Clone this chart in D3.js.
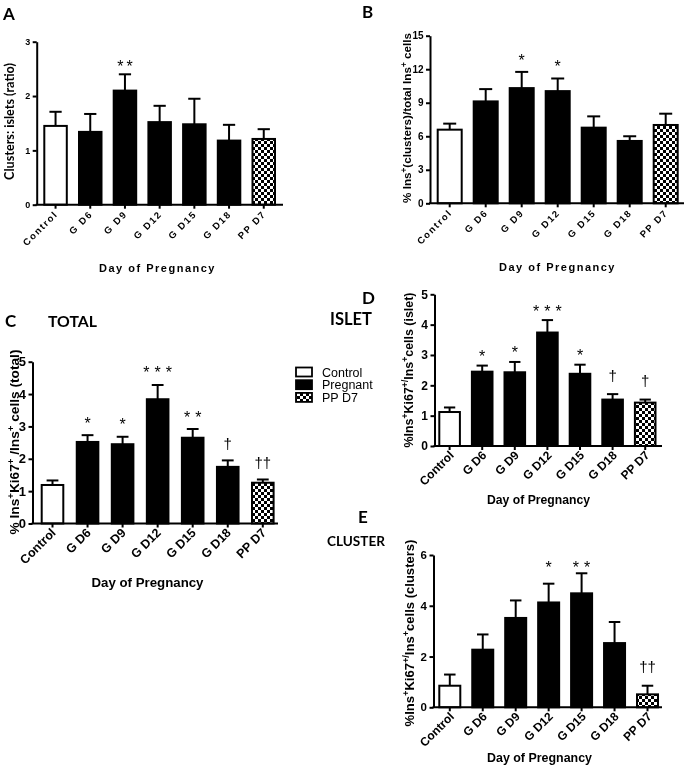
<!DOCTYPE html>
<html><head><meta charset="utf-8">
<script src="https://cdn.jsdelivr.net/npm/d3@7"></script>
<style>body{margin:0;background:#fff} svg{display:block;filter:grayscale(1)}</style>
</head><body>
<svg id="chart" width="686" height="772"></svg>
<script>
// ---------- DATA ----------
const categories = ["Control", "G D6", "G D9", "G D12", "G D15", "G D18", "PP D7"];
const groups = ["Control", "Pregnant", "Pregnant", "Pregnant", "Pregnant", "Pregnant", "PP D7"];
const legendLabels = ["Control", "Pregnant", "PP D7"];

// A: Clusters : islets ratio
const ratioMean = [1.45, 1.34, 2.10, 1.52, 1.48, 1.18, 1.21];
const ratioSem  = [0.26, 0.33, 0.30, 0.30, 0.47, 0.29, 0.18];
const ratioSig  = ["", "", "**", "", "", "", ""];
const ratioTicks = [0, 1, 2, 3];

// B: % Ins+ (clusters) / total Ins+
const clusterPctMean = [6.59, 9.12, 10.31, 10.04, 6.77, 5.58, 7.01];
const clusterPctSem  = [0.54, 1.10, 1.45, 1.13, 1.01, 0.42, 1.01];
const clusterPctSig  = ["", "", "*", "*", "", "", ""];
const clusterPctTicks = [0, 3, 6, 9, 12, 15];

// C: Ki67 total
const totalMean = [1.19, 2.52, 2.45, 3.84, 2.65, 1.75, 1.26];
const totalSem  = [0.14, 0.21, 0.23, 0.44, 0.27, 0.20, 0.10];
const totalSig  = ["", "*", "*", "***", "**", "†", "††"];
const totalTicks = [0, 1, 2, 3, 4, 5];

// D: Ki67 islet
const isletMean = [1.12, 2.45, 2.43, 3.74, 2.38, 1.53, 1.43];
const isletSem  = [0.15, 0.20, 0.34, 0.41, 0.30, 0.18, 0.10];
const isletSig  = ["", "*", "*", "***", "*", "†", "†"];
const isletTicks = [0, 1, 2, 3, 4, 5];

// E: Ki67 clusters
const clusterMean = [0.85, 2.27, 3.52, 4.13, 4.49, 2.53, 0.51];
const clusterSem  = [0.44, 0.60, 0.69, 0.74, 0.79, 0.83, 0.34];
const clusterSig  = ["", "", "", "*", "**", "", "††"];
const clusterTicks = [0, 2, 4, 6];

// ---------- DRAWING ----------
const svg = d3.select("#chart");
const ARIAL = "'Liberation Sans', Arial, sans-serif";
const CAL = "Lato, 'Open Sans', sans-serif";

const defs = svg.append("defs");
const pat = defs.append("pattern").attr("id", "checker")
  .attr("width", 6).attr("height", 6).attr("patternUnits", "userSpaceOnUse");
pat.append("rect").attr("width", 6).attr("height", 6).attr("fill", "#000");
pat.append("rect").attr("width", 3).attr("height", 3).attr("fill", "#fff");
pat.append("rect").attr("x", 3).attr("y", 3).attr("width", 3).attr("height", 3).attr("fill", "#fff");

const fillFor = g => g === "Control" ? "#fff" : (g === "Pregnant" ? "#000" : "url(#checker)");

function fit(sel, target) {
  const w = sel.node().getComputedTextLength();
  const fs = parseFloat(sel.attr("font-size"));
  sel.attr("font-size", (fs * target / w).toFixed(2));
}

function drawPanel(p) {
  const n = categories.length;
  const pi = 1 - p.barW / p.step, po = (p.first - p.x0) / p.step;
  const x = d3.scaleBand().domain(categories)
    .range([p.x0, p.x0 + p.step * (n - pi + 2 * po)])
    .paddingInner(pi).paddingOuter(po);
  const y = d3.scaleLinear().domain([0, p.max]).range([p.y0, p.yTop]);
  const g = svg.append("g");
  const rows = categories.map((c, i) => ({c, grp: groups[i], m: p.mean[i], s: p.sem[i], sig: p.sig[i]}));

  // error bars (upper only)
  const eb = g.append("g").attr("stroke", "#000").attr("stroke-width", 2);
  rows.forEach(r => {
    const cx = x(r.c) + x.bandwidth() / 2;
    eb.append("line").attr("x1", cx).attr("x2", cx).attr("y1", y(r.m)).attr("y2", y(r.m + r.s));
    eb.append("line").attr("x1", cx - x.bandwidth() / 4).attr("x2", cx + x.bandwidth() / 4)
      .attr("y1", y(r.m + r.s)).attr("y2", y(r.m + r.s));
  });
  // bars
  g.append("g").selectAll("rect").data(rows).join("rect")
    .attr("x", d => x(d.c) + 1).attr("width", x.bandwidth() - 2)
    .attr("y", d => y(d.m)).attr("height", d => p.y0 - y(d.m))
    .attr("fill", d => fillFor(d.grp)).attr("stroke", "#000").attr("stroke-width", 2);

  // significance marks
  const capMin = d3.min(rows.filter(r => r.sig && r.sig[0] === "*"), r => y(r.m + r.s));
  g.append("g").selectAll("text").data(rows.filter(r => r.sig)).join("text")
    .attr("x", d => x(d.c) + x.bandwidth() / 2 + (d.sig[0] === "*" ? p.starSp / 2 : 0))
    .attr("y", d => {
      const cap = y(d.m + d.s);
      if (d.sig[0] === "*") return (p.alignStars ? capMin : cap) - p.starOff;
      return cap - p.dagOff;
    })
    .attr("text-anchor", "middle").attr("fill", "#000")
    .attr("font-family", ARIAL).attr("font-size", d => d.sig[0] === "*" ? 16 : 15)
    .attr("letter-spacing", d => d.sig[0] === "*" ? p.starSp : 0)
    .text(d => d.sig);

  // y axis
  const ya = g.append("g").attr("transform", `translate(${p.x0},0)`)
    .call(d3.axisLeft(y).tickValues(p.ticks).tickFormat(d3.format("d"))
      .tickSize(4).tickSizeOuter(0).tickPadding(2.5));
  ya.select(".domain").attr("stroke-width", 2);
  ya.selectAll(".tick line").attr("stroke-width", 2);
  ya.selectAll(".tick text").attr("font-family", ARIAL).attr("font-weight", "bold")
    .attr("font-size", p.yFs).attr("fill", "#000");

  // x axis
  const xa = g.append("g").attr("transform", `translate(0,${p.y0})`)
    .call(d3.axisBottom(x).tickSize(4).tickSizeOuter(0));
  xa.select(".domain").remove();
  xa.selectAll(".tick line").attr("stroke-width", 2);
  xa.append("line").attr("x1", p.x0 - 1).attr("x2", p.axisEnd).attr("stroke", "#000").attr("stroke-width", 2);
  xa.selectAll(".tick text")
    .attr("x", 0).attr("y", 0).attr("dy", 0)
    .attr("transform", `translate(${p.lblDx},${p.lblDy}) rotate(-45)`)
    .attr("text-anchor", "end")
    .attr("font-family", ARIAL).attr("font-weight", "bold")
    .attr("font-size", p.xFs).attr("letter-spacing", p.xLs).attr("fill", "#000");

  // y title
  const yt = svg.append("text")
    .attr("transform", `translate(${p.ytx},${p.yty}) rotate(-90)`)
    .attr("text-anchor", "middle").attr("dy", "0.35em")
    .attr("font-family", p.ytFont).attr("font-weight", "bold").attr("font-size", 12);
  p.ytParts.forEach(part => {
    const t = yt.append("tspan").text(part[0]);
    if (part[1]) t.attr("baseline-shift", "super").attr("font-size", "70%");
  });
  fit(yt, p.ytLen);

  // x title
  const xt = svg.append("text").attr("x", p.xtx).attr("y", p.xty)
    .attr("text-anchor", "middle").attr("font-family", ARIAL).attr("font-weight", "bold")
    .attr("font-size", 12).attr("letter-spacing", p.xtLs).text("Day of Pregnancy");
  fit(xt, p.xtLen);
}

// A
drawPanel({mean: ratioMean, sem: ratioSem, sig: ratioSig, ticks: ratioTicks, max: 3,
  x0: 36.7, first: 43.3, step: 34.7, barW: 24.5, axisEnd: 283, y0: 204.7, yTop: 41.7,
  starOff: 2, dagOff: 11, starSp: 3, yFs: 9, xFs: 9.5, xLs: 1.6, lblDx: 3, lblDy: 10,
  ytx: 10, yty: 121.5, ytLen: 117, ytFont: CAL, ytParts: [["Clusters: islets (ratio)"]],
  xtx: 157.5, xty: 271.5, xtLen: 115, xtLs: 1.5});
// B
drawPanel({mean: clusterPctMean, sem: clusterPctSem, sig: clusterPctSig, ticks: clusterPctTicks, max: 15,
  x0: 430, first: 436.7, step: 36, barW: 26, axisEnd: 684, y0: 203.3, yTop: 35.7,
  starOff: 6, dagOff: 11, starSp: 3, yFs: 10, xFs: 9.5, xLs: 1.6, lblDx: 3, lblDy: 10,
  ytx: 407, yty: 118, ytLen: 170, ytFont: ARIAL,
  ytParts: [["% Ins"], ["+", 1], ["(clusters)/total Ins"], ["+", 1], [" cells"]],
  xtx: 557.5, xty: 270.5, xtLen: 115, xtLs: 1.5});
// C
drawPanel({mean: totalMean, sem: totalSem, sig: totalSig, ticks: totalTicks, max: 5,
  x0: 32.5, first: 40.7, step: 35.05, barW: 23.6, axisEnd: 278, y0: 523.5, yTop: 361.7,
  starOff: 6.5, dagOff: 11, starSp: 5, yFs: 13, xFs: 12.5, xLs: 0, lblDx: 4, lblDy: 10,
  ytx: 14, yty: 442, ytLen: 185, ytFont: ARIAL,
  ytParts: [["% Ins"], ["+", 1], ["Ki67"], ["+", 1], [" /Ins"], ["+", 1], [" cells (total)"]],
  xtx: 147.5, xty: 587, xtLen: 112, xtLs: 0});
// D
drawPanel({mean: isletMean, sem: isletSem, sig: isletSig, ticks: isletTicks, max: 5,
  x0: 434.5, first: 438.3, step: 32.6, barW: 22.6, axisEnd: 662, y0: 446, yTop: 294.3,
  starOff: 3.5, dagOff: 13.5, starSp: 5, yFs: 12, xFs: 12, xLs: 0, lblDx: 5, lblDy: 10,
  ytx: 409, yty: 370, ytLen: 155, ytFont: ARIAL,
  ytParts: [["%Ins"], ["+", 1], ["Ki67"], ["+/", 1], ["Ins"], ["+", 1], ["cells (islet)"]],
  xtx: 538.5, xty: 504, xtLen: 103, xtLs: 0});
// E
drawPanel({mean: clusterMean, sem: clusterSem, sig: clusterSig, ticks: clusterTicks, max: 6,
  x0: 433.5, first: 438.3, step: 32.95, barW: 23, axisEnd: 662, y0: 707.3, yTop: 555,
  starOff: 0.3, alignStars: true, dagOff: 14, starSp: 5, yFs: 11.5, xFs: 12, xLs: 0, lblDx: 5, lblDy: 10,
  ytx: 409, yty: 633, ytLen: 187, ytFont: ARIAL,
  ytParts: [["%Ins"], ["+", 1], ["Ki67"], ["+/", 1], ["Ins"], ["+", 1], ["cells (clusters)"]],
  xtx: 539.5, xty: 762, xtLen: 105, xtLs: 0});

// Panel letters & section titles
function label(txt, x, y, fs, w) {
  const t = svg.append("text").attr("x", x).attr("y", y).attr("font-family", CAL)
    .attr("font-weight", "bold").attr("font-size", fs).text(txt);
  if (w) fit(t, w);
  return t;
}
label("A", 3, 20, 17);
label("B", 362, 18, 17);
label("C", 5, 327, 17);
label("TOTAL", 48, 327, 16, 49);
label("ISLET", 330, 325, 16, 42);
label("D", 362, 304, 17);
label("CLUSTER", 327, 546, 16, 58);
label("E", 358, 523, 17);

// Legend
const lg = svg.append("g");
legendLabels.forEach((l, i) => {
  const cy = 372 + i * 12.7;
  lg.append("rect").attr("x", 296).attr("y", cy - 4.5).attr("width", 16).attr("height", 9)
    .attr("fill", fillFor(l)).attr("stroke", "#000").attr("stroke-width", 1.8);
  lg.append("text").attr("x", 322).attr("y", cy + 4.5).attr("font-family", ARIAL)
    .attr("font-size", 12.5).text(l);
});
</script>
</body></html>
